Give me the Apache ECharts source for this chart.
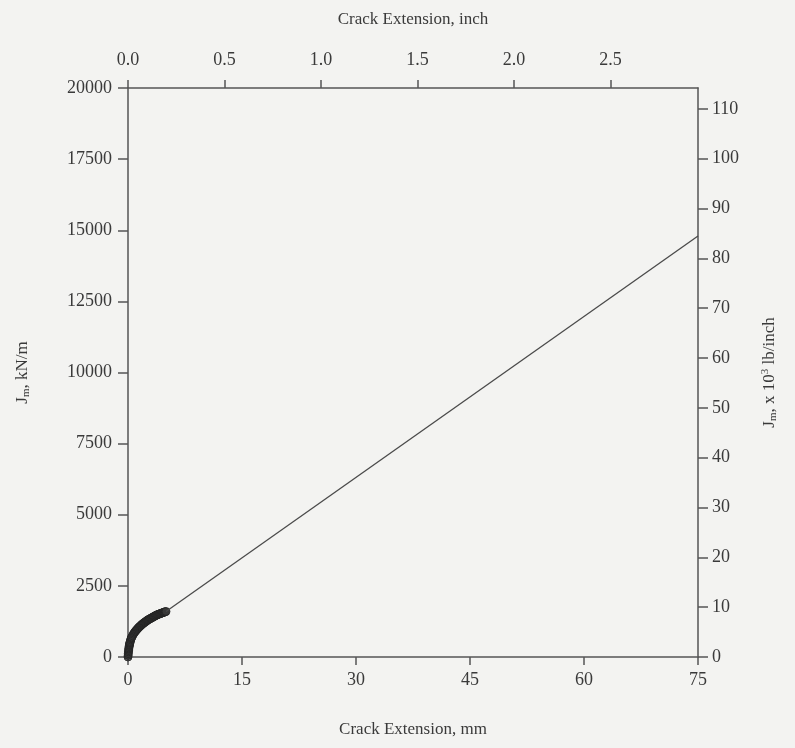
<!DOCTYPE html>
<html>
<head>
<meta charset="utf-8">
<script src="https://cdn.jsdelivr.net/npm/echarts@6/dist/echarts.min.js"></script>
<style>
html,body{margin:0;padding:0;background:#f3f3f1;}
#c{width:795px;height:748px;}
</style>
</head>
<body>
<div id="c"></div>
<script>
// Crack extension (mm) and J (kN/m) of the measured points
var crackMm = [0, 0.02, 0.04, 0.06, 0.08, 0.1, 0.12, 0.15, 0.18, 0.2, 0.23, 0.26, 0.3, 0.35, 0.4, 0.45, 0.5, 0.6, 0.7, 0.8, 0.9, 1.0, 1.1, 1.2, 1.3, 1.4, 1.5, 1.6, 1.7, 1.8, 1.9, 2.0, 2.1, 2.2, 2.3, 2.4, 2.5, 2.6, 2.7, 2.8, 2.9, 3.0, 3.1, 3.2, 3.3, 3.4, 3.5, 3.6, 3.7, 3.8, 3.9, 4.0, 4.1, 4.2, 4.3, 4.4, 4.5, 4.6, 4.7, 4.8, 4.9, 5.0];
var jKNm    = [0, 60, 120, 180, 230, 280, 320, 370, 410, 440, 480, 510, 550, 600, 640, 670, 700, 750, 800, 840, 880, 910, 945, 975, 1005, 1035, 1060, 1085, 1110, 1135, 1160, 1180, 1200, 1220, 1240, 1260, 1280, 1300, 1315, 1330, 1345, 1360, 1375, 1390, 1405, 1420, 1435, 1450, 1465, 1480, 1490, 1500, 1510, 1520, 1530, 1540, 1550, 1560, 1570, 1580, 1590, 1600];
// fitted straight line
var fitMm = [5, 75];
var fitJ  = [1600, 14800];
// axis tick definitions
var mmTicks = [0, 75, 15];
var jTicks = [0, 20000, 2500];
var inchMax = 75 / 25.4;
var lbMax = 20000 * 5.710 / 1000;

var font = 'Liberation Serif';
var txt = '#3a3a3a';
var axisCol = '#555';

var pts = crackMm.map(function(x, i){ return [x, jKNm[i]]; });
var fit = fitMm.map(function(x, i){ return [x, fitJ[i]]; });
function plain(v){ return String(v); }

var chart = echarts.init(document.getElementById('c'));
chart.setOption({
  backgroundColor: '#f3f3f1',
  animation: false,
  grid: {left: 128, right: 97, top: 88, bottom: 91},
  xAxis: [{
    type: 'value', position: 'bottom', min: mmTicks[0], max: mmTicks[1], interval: mmTicks[2],
    name: 'Crack Extension, mm', nameLocation: 'middle', nameGap: 64,
    nameTextStyle: {fontFamily: font, fontSize: 17, color: txt},
    axisLine: {show: true, onZero: false, lineStyle: {color: axisCol, width: 1.5}},
    axisTick: {show: true, inside: false, length: 8, lineStyle: {color: axisCol, width: 1.5}},
    axisLabel: {fontFamily: font, fontSize: 18, color: txt, margin: 14, formatter: plain},
    splitLine: {show: false}
  }, {
    type: 'value', position: 'top', min: 0, max: inchMax, interval: 0.5,
    name: 'Crack Extension, inch', nameLocation: 'middle', nameGap: 60,
    nameTextStyle: {fontFamily: font, fontSize: 17, color: txt},
    axisLine: {show: true, onZero: false, lineStyle: {color: axisCol, width: 1.5}},
    axisTick: {show: true, inside: false, length: 8, lineStyle: {color: axisCol, width: 1.5}},
    axisLabel: {fontFamily: font, fontSize: 18, color: txt, margin: 19, showMaxLabel: false,
      formatter: function(v){ return v.toFixed(1); }},
    splitLine: {show: false}
  }],
  yAxis: [{
    type: 'value', position: 'left', min: jTicks[0], max: jTicks[1], interval: jTicks[2],
    name: '{a|J}{s|m}{a|, kN/m}', nameLocation: 'middle', nameGap: 96,
    nameTextStyle: {fontFamily: font, fontSize: 17, color: txt,
      rich: {a: {fontFamily: font, fontSize: 17, color: txt}, s: {fontFamily: font, fontSize: 11, color: txt, verticalAlign: 'bottom', padding: [8,0,0,0]}}},
    axisLine: {show: true, onZero: false, lineStyle: {color: axisCol, width: 1.5}},
    axisTick: {show: true, inside: false, length: 10, lineStyle: {color: axisCol, width: 1.5}},
    axisLabel: {fontFamily: font, fontSize: 18, color: txt, margin: 16, formatter: plain},
    splitLine: {show: false}
  }, {
    type: 'value', position: 'right', min: 0, max: lbMax, interval: 10,
    name: '{a|J}{s|m}{a|, x 10}{p|3}{a| lb/inch}', nameLocation: 'middle', nameGap: 62, nameRotate: 90,
    nameTextStyle: {fontFamily: font, fontSize: 17, color: txt,
      rich: {a: {fontFamily: font, fontSize: 17, color: txt}, s: {fontFamily: font, fontSize: 11, color: txt, verticalAlign: 'bottom', padding: [8,0,0,0]}, p: {fontFamily: font, fontSize: 11, color: txt, verticalAlign: 'top', padding: [0,0,8,0]}}},
    axisLine: {show: true, onZero: false, lineStyle: {color: axisCol, width: 1.5}},
    axisTick: {show: true, inside: false, length: 10, lineStyle: {color: axisCol, width: 1.5}},
    axisLabel: {fontFamily: font, fontSize: 18, color: txt, margin: 14, showMaxLabel: false, formatter: plain},
    splitLine: {show: false}
  }],
  series: [{
    type: 'line', xAxisIndex: 0, yAxisIndex: 0, data: fit, symbol: 'none',
    lineStyle: {color: '#4a4a4a', width: 1.3}, silent: true
  }, {
    type: 'scatter', xAxisIndex: 0, yAxisIndex: 0, data: pts,
    symbol: 'circle', symbolSize: 8,
    itemStyle: {color: '#3a3a3a', borderColor: '#222', borderWidth: 1}
  }]
});
</script>
</body>
</html>
